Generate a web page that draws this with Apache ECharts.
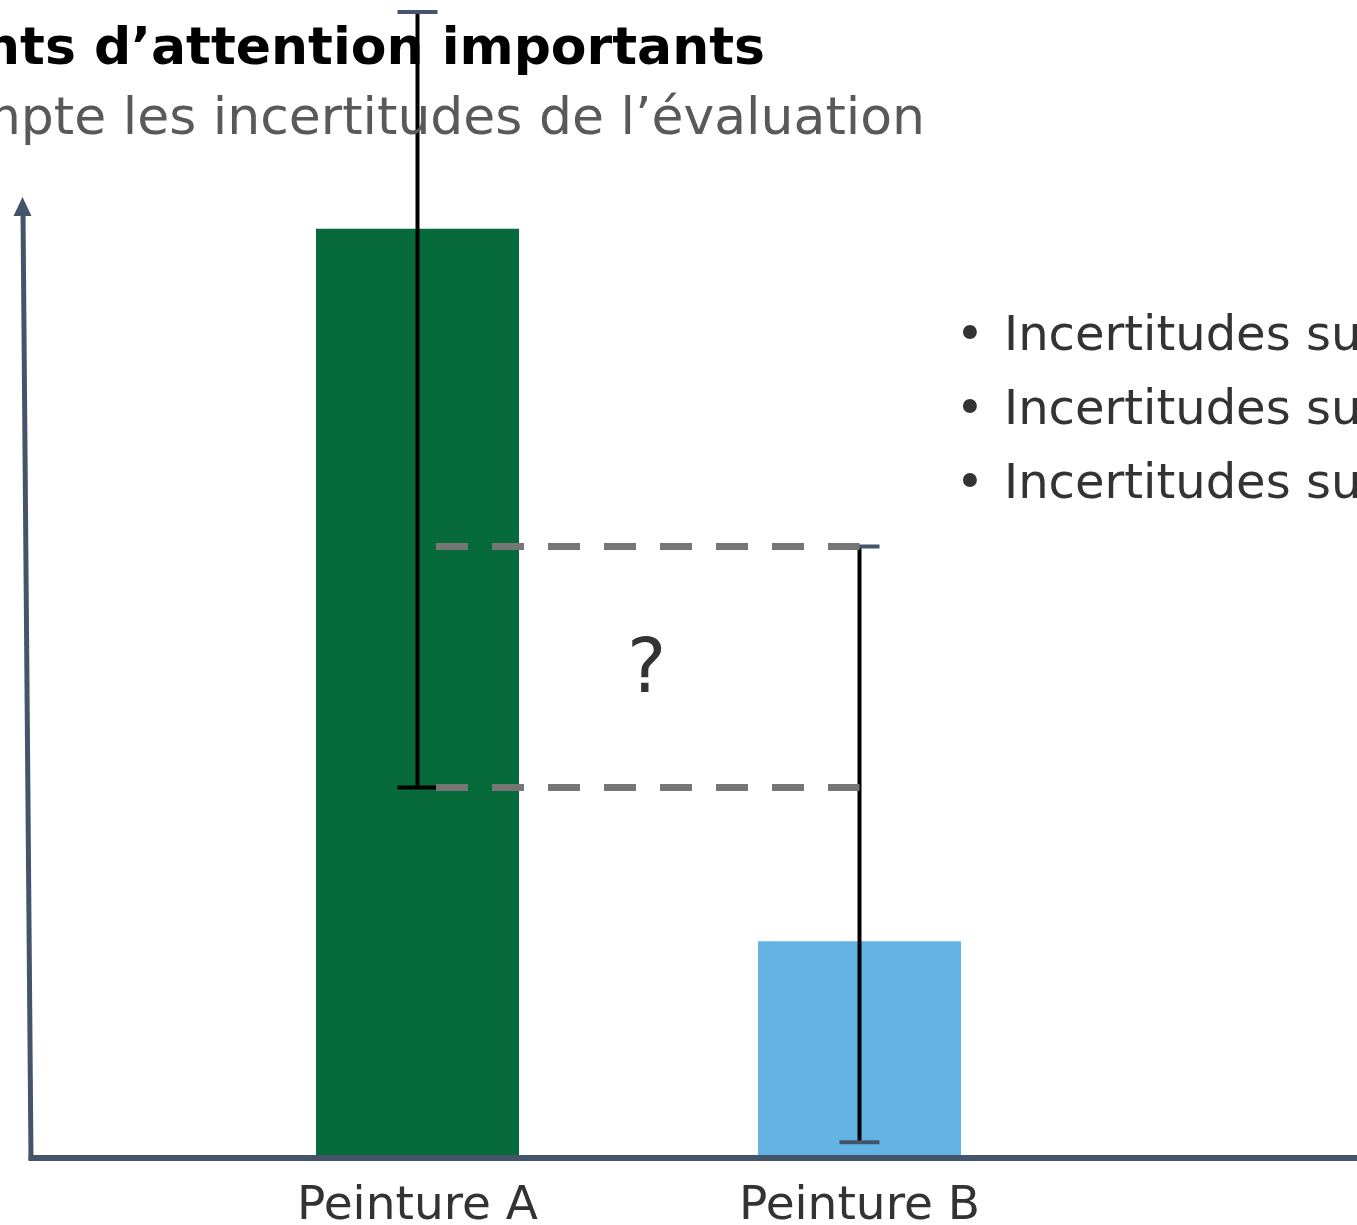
<!DOCTYPE html>
<html>
<head>
<meta charset="utf-8">
<script src="https://cdn.jsdelivr.net/npm/echarts@6/dist/echarts.min.js"></script>
<style>
  html, body { margin: 0; padding: 0; background: #ffffff; }
  #chart { width: 1357px; height: 1225px; }
</style>
</head>
<body>
<div id="chart"></div>
<script>
// ---- data ----
const categories = ['Peinture A', 'Peinture B'];
const barValues = [100.3, 23.4];
const errorLow = [40.0, 1.7];
const errorHigh = [123.7, 66.0];
const titleText = 'Points d’attention importants';
const subtitleText = 'Prendre en compte les incertitudes de l’évaluation';
const bulletTexts = ['Incertitudes sur', 'Incertitudes sur', 'Incertitudes sur'];
const questionText = '?';

// ---- styles ----
const FONT = '"DejaVu Sans", Verdana, sans-serif';
const AXIS_COLOR = '#44546a';
const barColors = ['#066a3a', '#63b4e4'];
const bottomCapColors = ['#000000', AXIS_COLOR];
const topCapColors = [AXIS_COLOR, AXIS_COLOR];

const chart = echarts.init(document.getElementById('chart'), null, { renderer: 'canvas' });

const errorData = categories.map((c, i) => [i, errorLow[i], errorHigh[i]]);
// the two reference levels: top of B's range and bottom of A's range
const refLevels = [errorHigh[1], errorLow[0]];

const option = {
  animation: false,
  backgroundColor: '#ffffff',
  grid: { left: 196.5, right: 276.5, top: 0, bottom: 67, containLabel: false, outerBoundsMode: 'none' },
  xAxis: {
    type: 'category',
    data: categories,
    axisLine: { show: false },
    axisTick: { show: false },
    axisLabel: { fontSize: 47, color: '#333333', fontFamily: FONT, margin: 25 },
    splitLine: { show: false }
  },
  yAxis: {
    type: 'value', min: 0, max: 125, show: false
  },
  series: [
    {
      type: 'bar',
      barWidth: 203,
      data: barValues.map((v, i) => ({ value: v, itemStyle: { color: barColors[i] } })),
      z: 1
    },
    {
      type: 'custom',
      z: 3,
      data: errorData,
      renderItem: function (params, api) {
        const idx = params.dataIndex;
        const x = api.value(0);
        const lo = api.coord([x, api.value(1)]);
        const hi = api.coord([x, api.value(2)]);
        const half = 20;
        return {
          type: 'group',
          children: [
            { type: 'line', shape: { x1: lo[0], y1: lo[1], x2: hi[0], y2: hi[1] },
              style: { stroke: '#000', lineWidth: 4 } },
            { type: 'line', shape: { x1: hi[0] - half, y1: hi[1], x2: hi[0] + half, y2: hi[1] },
              style: { stroke: topCapColors[idx], lineWidth: 4 } },
            { type: 'line', shape: { x1: lo[0] - half, y1: lo[1], x2: lo[0] + half, y2: lo[1] },
              style: { stroke: bottomCapColors[idx], lineWidth: 4 } }
          ]
        };
      }
    },
    {
      type: 'custom',
      z: 4,
      data: refLevels.map(v => [v]),
      renderItem: function (params, api) {
        const v = api.value(0);
        const a = api.coord([0, v]);
        const b = api.coord([1, v]);
        return {
          type: 'line',
          shape: { x1: a[0] + 18.5, y1: a[1], x2: b[0], y2: b[1] },
          style: { stroke: '#767676', lineWidth: 7, lineDash: [32, 24] }
        };
      }
    },
    {
      type: 'custom',
      z: 5,
      data: [[(refLevels[0] + refLevels[1]) / 2]],
      renderItem: function (params, api) {
        const v = api.value(0);
        const a = api.coord([0, v]);
        const b = api.coord([1, v]);
        return {
          type: 'text',
          style: {
            x: (a[0] + 18.5 + b[0]) / 2 - 1, y: a[1] + 6,
            text: questionText, fill: '#333333',
            font: '74px ' + FONT, align: 'center', verticalAlign: 'middle'
          }
        };
      }
    }
  ],
  graphic: [
    // y axis (slightly slanted) with arrow
    { type: 'line', z: 10, shape: { x1: 31, y1: 1160, x2: 23, y2: 212 },
      style: { stroke: AXIS_COLOR, lineWidth: 5 } },
    { type: 'polygon', z: 10, shape: { points: [[22.5, 197], [13.5, 216], [31.5, 216]] },
      style: { fill: AXIS_COLOR } },
    // x axis
    { type: 'line', z: 10, shape: { x1: 28.5, y1: 1158, x2: 1357, y2: 1158 },
      style: { stroke: AXIS_COLOR, lineWidth: 6 } },
    // title & subtitle
    { type: 'text', z: 10, style: { x: 765, y: 50, text: titleText, fill: '#000000',
      font: 'bold 52px ' + FONT, align: 'right', verticalAlign: 'middle' } },
    { type: 'text', z: 10, style: { x: 925, y: 120, text: subtitleText, fill: '#595959',
      font: '52px ' + FONT, align: 'right', verticalAlign: 'middle' } },
    // bullets
    ...bulletTexts.flatMap((t, i) => [
      { type: 'text', z: 10, style: { x: 970, y: 338 + i * 74, text: '•', fill: '#333333',
        font: '48px ' + FONT, align: 'center', verticalAlign: 'middle' } },
      { type: 'text', z: 10, style: { x: 1004, y: 338 + i * 74, text: t, fill: '#333333',
        font: '48px ' + FONT, align: 'left', verticalAlign: 'middle' } }
    ])
  ]
};

chart.setOption(option);
</script>
</body>
</html>
